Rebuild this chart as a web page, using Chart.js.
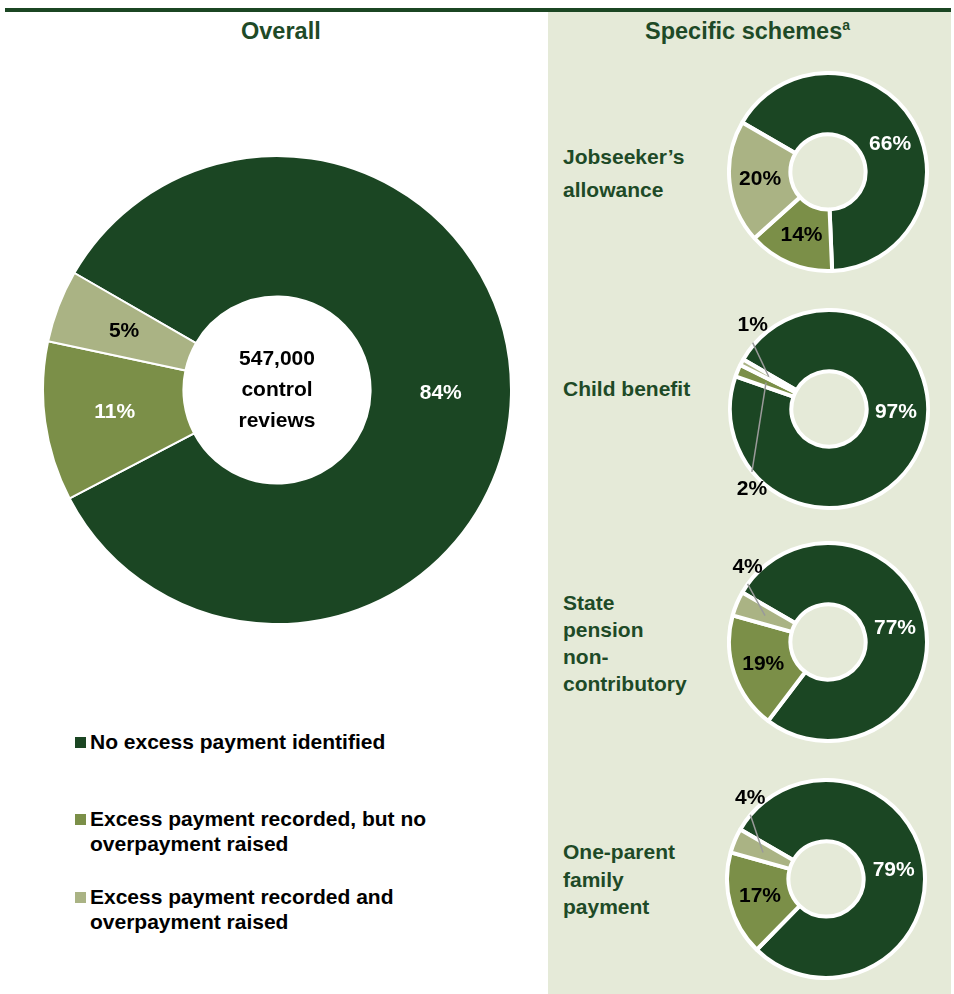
<!DOCTYPE html>
<html>
<head>
<meta charset="utf-8">
<script src="https://cdn.jsdelivr.net/npm/chart.js@4.4.1/dist/chart.umd.min.js"></script>
<style>
  body {
    margin: 0;
    width: 954px;
    height: 994px;
    position: relative;
    overflow: hidden;
    background: #fff;
    font-family: "Liberation Sans", Arial, sans-serif;
    font-weight: bold;
  }
  .rule { position: absolute; left: 5px; top: 8px; width: 946px; height: 4px; background: #1b4623; }
  .panel { position: absolute; left: 548px; top: 12px; width: 403px; height: 982px; background: #e5ead8; }
  .title { position: absolute; top: 18px; font-size: 23.5px; line-height: 27px; color: #1e4a27; white-space: nowrap; }
  .title sup { font-size: 14px; vertical-align: 9px; line-height: 0; }
  canvas { position: absolute; }
  .scheme { position: absolute; left: 563px; font-size: 21px; color: #1e4a27; }
  .legend { position: absolute; left: 75px; top: 0; font-size: 21px; color: #000; }
  .legend-item { position: absolute; left: 0; width: 420px; line-height: 25px; padding-left: 15px; white-space: nowrap; }
  .legend-item i { position: absolute; left: 0; top: 8px; width: 11px; height: 11px; }
</style>
</head>
<body>
<div class="rule"></div>
<div class="panel"></div>
<div class="title" style="left:241px">Overall</div>
<div class="title" style="left:645px">Specific schemes<sup>a</sup></div>

<canvas id="overall" width="470" height="470" style="left:42px;top:155px"></canvas>
<div id="schemes"></div>
<div class="legend" id="legend"></div>

<script>
// Outcome categories (same order in every ring)
const categories = [
  "No excess payment identified",
  "Excess payment recorded, but no overpayment raised",
  "Excess payment recorded and overpayment raised"
];
const legendLines = [
  ["No excess payment identified"],
  ["Excess payment recorded, but no", "overpayment raised"],
  ["Excess payment recorded and", "overpayment raised"]
];

// Shares in percent
const overallValues = [84, 11, 5];
const overallCentre = ["547,000", "control", "reviews"];

const schemeNames = [
  ["Jobseeker\u2019s", "allowance"],
  ["Child benefit"],
  ["State", "pension", "non-", "contributory"],
  ["One-parent", "family", "payment"]
];
const jobseekerValues = [66, 14, 20];
const childBenefitValues = [97, 2, 1];
const statePensionValues = [77, 19, 4];
const oneParentValues = [79, 17, 4];

const sliceColors = ["#1b4623", "#7b8f48", "#aab384"];

// where each small ring sits, and where its name block starts
const schemeLayout = [
  { cx: 828, cy: 172, nameTop: 140, lineHeight: 33 },
  { cx: 829, cy: 409, nameTop: 375, lineHeight: 27 },
  { cx: 828, cy: 642, nameTop: 589, lineHeight: 27 },
  { cx: 826, cy: 879, nameTop: 838, lineHeight: 27.5 }
];

// label placement tweaks per ring: null = centroid of slice,
// {angle} = inside at that clock angle, {angle, r, leader} = outside with a leader line
const schemeLabelSpots = [
  [{ angle: 66, r: 68 }, null, null],
  [{ angle: 93, r: 67 }, { angle: 224, r: 111, leader: true }, { angle: 317.5, r: 113, leader: true }],
  [null, null, { angle: 313, r: 110, leader: true }],
  [null, null, { angle: 317, r: 111, leader: true }]
];

// clock angle (0 = 12 o'clock, clockwise) to canvas point
function clockPoint(cx, cy, deg, r) {
  const a = deg * Math.PI / 180;
  return { x: cx + r * Math.sin(a), y: cy - r * Math.cos(a) };
}

function sliceLabels(textColors, spots, centreLines) {
  return {
    id: "sliceLabels",
    afterDatasetsDraw(chart) {
      const ctx = chart.ctx;
      const meta = chart.getDatasetMeta(0);
      const values = chart.data.datasets[0].data;
      ctx.save();
      ctx.font = "bold 21px 'Liberation Sans', Arial, sans-serif";
      ctx.textAlign = "center";
      ctx.textBaseline = "middle";
      meta.data.forEach((arc, i) => {
        const p = arc.getProps(["x", "y", "startAngle", "endAngle", "innerRadius", "outerRadius"], true);
        const midR = (p.innerRadius + p.outerRadius) / 2;
        const midClock = ((p.startAngle + p.endAngle) / 2) * 180 / Math.PI + 90;
        const spot = spots ? spots[i] : null;
        let pos;
        if (!spot) {
          pos = clockPoint(p.x, p.y, midClock, midR);
        } else {
          pos = clockPoint(p.x, p.y, spot.angle, spot.r || midR);
        }
        if (spot && spot.leader) {
          const target = clockPoint(p.x, p.y, midClock, midR);
          const dir = target.y > pos.y ? 1 : -1;
          ctx.strokeStyle = "#9a9a9a";
          ctx.lineWidth = 1.5;
          ctx.beginPath();
          ctx.moveTo(pos.x, pos.y + dir * 17);
          ctx.lineTo(target.x, target.y);
          ctx.stroke();
          ctx.fillStyle = "#000";
        } else {
          ctx.fillStyle = textColors[i];
        }
        ctx.fillText(values[i] + "%", pos.x, pos.y);
      });
      if (centreLines) {
        const c = meta.data[0].getProps(["x", "y"], true);
        ctx.fillStyle = "#000";
        const lh = 31;
        centreLines.forEach((line, k) => {
          ctx.fillText(line, c.x, c.y + (k - (centreLines.length - 1) / 2) * lh);
        });
      }
      ctx.restore();
    }
  };
}

function makeDonut(canvas, values, border, cutout, textColors, spots, centreLines) {
  return new Chart(canvas, {
    type: "doughnut",
    data: {
      labels: categories,
      datasets: [{
        data: values,
        backgroundColor: sliceColors,
        borderColor: "#ffffff",
        borderWidth: border,
        hoverOffset: 0
      }]
    },
    options: {
      responsive: false,
      animation: false,
      rotation: -60,
      cutout: cutout,
      layout: { padding: 0 },
      events: [],
      plugins: {
        legend: { display: false },
        tooltip: { enabled: false }
      }
    },
    plugins: [sliceLabels(textColors, spots, centreLines)]
  });
}

// Overall ring
makeDonut(document.getElementById("overall"), overallValues, 2, "40%",
  ["#ffffff", "#ffffff", "#000000"], null, overallCentre);

// Scheme rings with their names
const schemeValues = [jobseekerValues, childBenefitValues, statePensionValues, oneParentValues];
const holder = document.getElementById("schemes");
schemeValues.forEach((vals, i) => {
  const lay = schemeLayout[i];
  const size = 202;
  const cv = document.createElement("canvas");
  cv.width = size;
  cv.height = size;
  cv.style.left = (lay.cx - size / 2) + "px";
  cv.style.top = (lay.cy - size / 2) + "px";
  holder.appendChild(cv);

  const name = document.createElement("div");
  name.className = "scheme";
  name.style.top = lay.nameTop + "px";
  name.style.lineHeight = lay.lineHeight + "px";
  name.innerHTML = schemeNames[i].join("<br>");
  holder.appendChild(name);

  makeDonut(cv, vals, 4, "38%", ["#ffffff", "#000000", "#000000"], schemeLabelSpots[i], null);
});

// Legend below the overall ring
const legendTops = [729, 806, 884];
const legend = document.getElementById("legend");
categories.forEach((c, i) => {
  const item = document.createElement("div");
  item.className = "legend-item";
  item.style.top = legendTops[i] + "px";
  item.innerHTML = '<i style="background:' + sliceColors[i] + '"></i>' + legendLines[i].join("<br>");
  legend.appendChild(item);
});
</script>
</body>
</html>
